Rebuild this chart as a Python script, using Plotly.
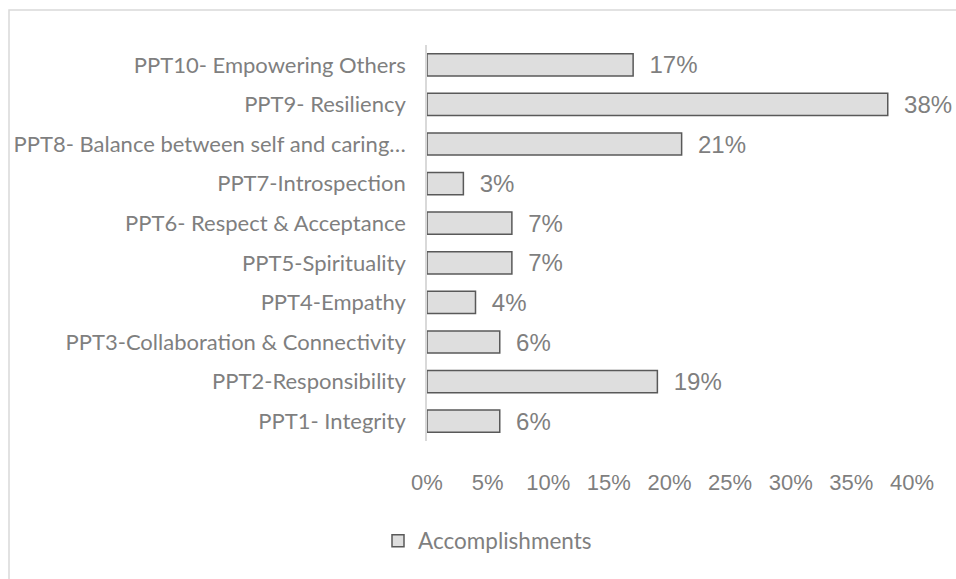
import plotly.graph_objects as go

categories = [
    "PPT1- Integrity",
    "PPT2-Responsibility",
    "PPT3-Collaboration & Connectivity",
    "PPT4-Empathy",
    "PPT5-Spirituality",
    "PPT6- Respect & Acceptance",
    "PPT7-Introspection",
    "PPT8- Balance between self and caring…",
    "PPT9- Resiliency",
    "PPT10- Empowering Others",
]
values = [6, 19, 6, 4, 7, 7, 3, 21, 38, 17]
tick_vals = [0, 5, 10, 15, 20, 25, 30, 35, 40]
tick_text = ["0%", "5%", "10%", "15%", "20%", "25%", "30%", "35%", "40%"]
series_name = "Accomplishments"

W, H = 956, 579
L = 427
T = 45
R = W - 912
B = H - 441
pw = W - L - R
ph = H - T - B

GRAY = "#7f7f7f"
CAL = "Lato, Calibri, Carlito, sans-serif"
ARI = "Liberation Sans, Arial, sans-serif"

fig = go.Figure()
fig.add_trace(go.Bar(
    x=values, y=categories, orientation="h", name=series_name,
    marker=dict(color="#dedede", line=dict(color="#595959", width=1.5)),
    text=["  %d%%" % v for v in values], textposition="outside",
    textfont=dict(family=ARI, size=24, color=GRAY),
    constraintext="none",
    cliponaxis=False,
))

def px2x(p):
    return (p - L) / pw

def py2y(p):
    return (H - B - p) / ph

fig.update_layout(
    width=W, height=H,
    margin=dict(l=L, r=R, t=T, b=B, autoexpand=False),
    paper_bgcolor="white", plot_bgcolor="white",
    bargap=0.44,
    showlegend=True,
    legend=dict(orientation="h", x=px2x(378), xanchor="left", y=py2y(541), yanchor="middle",
                font=dict(family=CAL, size=22.5, color=GRAY),
                itemwidth=30),
    xaxis=dict(range=[0, 40], tickvals=tick_vals, ticktext=tick_text, showgrid=False,
               zeroline=False, showline=False, automargin=False,
               tickfont=dict(family=ARI, size=22, color=GRAY),
               ticklabelstandoff=26),
    yaxis=dict(categoryorder="array", categoryarray=categories, showgrid=False,
               showline=True, linecolor="#d9d9d9", linewidth=1.5, automargin=False,
               tickfont=dict(family=CAL, size=22, color=GRAY),
               ticklabelstandoff=15),
    shapes=[dict(type="rect", xref="paper", yref="paper",
                 x0=px2x(9), x1=px2x(1000), y0=py2y(10), y1=py2y(640),
                 line=dict(color="#d9d9d9", width=1.5), fillcolor="rgba(0,0,0,0)", layer="below")],
)

fig.write_html("out.html",
               config={"displayModeBar": False},
               post_script="document.body.style.margin='0';document.body.style.overflow='hidden';")
